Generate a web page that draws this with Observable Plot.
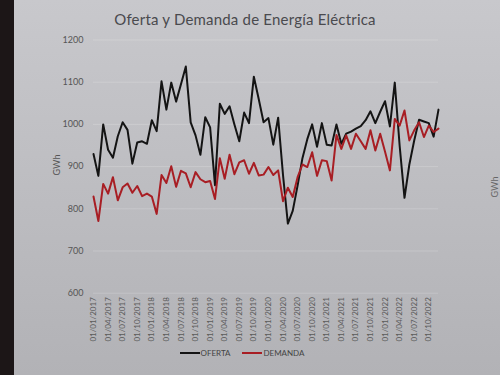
<!DOCTYPE html>
<html><head><meta charset="utf-8">
<script src="https://cdn.jsdelivr.net/npm/d3@7"></script>
<script src="https://cdn.jsdelivr.net/npm/@observablehq/plot@0.6"></script>
<style>
html,body{margin:0;padding:0;}
body{width:500px;height:375px;overflow:hidden;position:relative;background:linear-gradient(#c8c8cc,#b2b2b6);font-family:"Lato","Open Sans",sans-serif;}
#bezel{position:absolute;left:0;top:0;width:14px;height:375px;background:#1c1617;}
#title{position:absolute;left:0;width:490px;top:10px;text-align:center;font-size:15px;color:#4a4a4e;letter-spacing:0.2px;}
#chart{position:absolute;left:0;top:0;}
.ylab{position:absolute;font-size:9px;color:#555;transform:translate(-50%,-50%) rotate(-90deg);white-space:nowrap;}
#legend{position:absolute;top:348px;left:0;width:484px;display:flex;justify-content:center;gap:12px;font-size:8px;color:#444;}
#legend span{display:flex;align-items:center;gap:1px;}
#legend i{display:inline-block;width:20px;height:2px;}
</style></head>
<body>
<div id="bezel"></div>
<div id="title">Oferta y Demanda de Energía Eléctrica</div>
<div id="chart"></div>
<div class="ylab" style="left:56px;top:165px;">GWh</div>
<div class="ylab" style="left:494px;top:187px;color:#666;">GWh</div>
<div id="legend"></div>
<script>
const categories = [
"01/01/2017","01/02/2017","01/03/2017","01/04/2017","01/05/2017","01/06/2017","01/07/2017","01/08/2017","01/09/2017","01/10/2017","01/11/2017","01/12/2017",
"01/01/2018","01/02/2018","01/03/2018","01/04/2018","01/05/2018","01/06/2018","01/07/2018","01/08/2018","01/09/2018","01/10/2018","01/11/2018","01/12/2018",
"01/01/2019","01/02/2019","01/03/2019","01/04/2019","01/05/2019","01/06/2019","01/07/2019","01/08/2019","01/09/2019","01/10/2019","01/11/2019","01/12/2019",
"01/01/2020","01/02/2020","01/03/2020","01/04/2020","01/05/2020","01/06/2020","01/07/2020","01/08/2020","01/09/2020","01/10/2020","01/11/2020","01/12/2020",
"01/01/2021","01/02/2021","01/03/2021","01/04/2021","01/05/2021","01/06/2021","01/07/2021","01/08/2021","01/09/2021","01/10/2021","01/11/2021","01/12/2021",
"01/01/2022","01/02/2022","01/03/2022","01/04/2022","01/05/2022","01/06/2022","01/07/2022","01/08/2022","01/09/2022","01/10/2022","01/11/2022","01/12/2022"];
const oferta = [
930,878,1000,940,921,972,1005,987,907,957,960,954,
1010,984,1102,1035,1099,1054,1095,1137,1005,974,928,1017,
993,856,1049,1025,1043,1000,960,1028,1003,1113,1060,1005,
1015,952,1016,880,765,795,855,920,965,1000,947,1003,
952,950,1000,954,978,983,990,996,1010,1031,1003,1030,
1055,995,1099,950,826,905,962,1011,1007,1003,971,1035];
const demanda = [
829,771,859,836,875,820,851,860,838,854,830,836,
829,788,880,861,901,852,890,884,851,887,870,863,
866,823,920,871,928,882,910,915,883,909,879,881,
899,880,891,818,850,828,875,905,899,934,878,915,
913,867,975,942,974,942,978,960,942,986,938,978,
935,891,1013,997,1033,962,986,1005,970,997,982,990];
const yTicks = [600,700,800,900,1000,1100,1200];
const xTicks = categories.filter((d,i)=>i%3===0);
const seriesNames = ["OFERTA","DEMANDA"];
const seriesColors = ["#141414","#a81e24"];

const data = categories.map((c,i)=>({fecha:c, oferta:oferta[i], demanda:demanda[i]}));

const chart = Plot.plot({
  width:500, height:375,
  marginLeft:93, marginRight:62, marginTop:39.5, marginBottom:82.3,
  style:{background:"transparent", fontFamily:"Lato, 'Open Sans', sans-serif"},
  x:{type:"point", domain:categories, padding:0},
  y:{domain:[600,1200]},
  marks:[
    Plot.gridY(yTicks,{stroke:"#ffffff", strokeOpacity:0.18}),
    Plot.axisY(yTicks,{tickSize:0, tickPadding:10, fontSize:9, fill:"#555", label:null, tickFormat:d=>String(d)}),
    Plot.axisX(xTicks,{tickSize:0, tickRotate:-90, tickPadding:4, fontSize:8, fill:"#5a5a5a", label:null}),
    Plot.lineY(data,{x:"fecha", y:"oferta", stroke:seriesColors[0], strokeWidth:2}),
    Plot.lineY(data,{x:"fecha", y:"demanda", stroke:seriesColors[1], strokeWidth:2})
  ]
});
document.getElementById("chart").appendChild(chart);

const lg = document.getElementById("legend");
seriesNames.forEach((n,i)=>{
  const s = document.createElement("span");
  s.innerHTML = `<i style="background:${seriesColors[i]}"></i>${n}`;
  lg.appendChild(s);
});
</script>
</body></html>
